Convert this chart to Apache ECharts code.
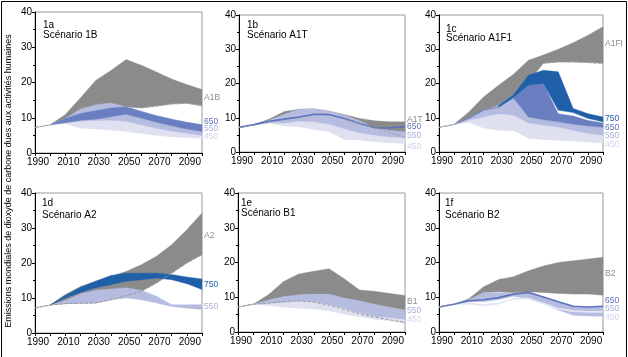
<!DOCTYPE html>
<html><head><meta charset="utf-8">
<script src="https://cdn.jsdelivr.net/npm/echarts@6/dist/echarts.min.js"></script>
<style>html,body{margin:0;padding:0;background:#fff}#c{width:628px;height:357px}</style>
</head><body><div id="c"></div>
<script>
// ---------- DATA ----------
const years = [1990, 2000, 2010, 2020, 2030, 2040, 2050, 2060, 2070, 2080, 2090, 2100];
const xTickLabels = ['1990', '2010', '2030', '2050', '2070', '2090'];
const panelIds = ['1a', '1b', '1c', '1d', '1e', '1f'];
const panelTitles = ['Scénario 1B', 'Scénario A1T', 'Scénario A1F1', 'Scénario A2', 'Scénario B1', 'Scénario B2'];
const yTitle = 'Emissions mondiales de dioxyde de carbone dues aux activités humaines';

// 1a  (A1B)
const a_grayUp = [7.2, 8, 10.9, 15.7, 20.6, 23.4, 26.5, 24.9, 23.0, 21.0, 19.4, 18.0];
const a_grayLo = [7.2, 8, 9.0, 10.0, 11.0, 12.5, 13.1, 12.8, 13.3, 13.9, 14.1, 13.4];
const a_450Lo  = [null, 8, 8.4, 7.0, 6.8, 6.5, 6.1, 5.5, 5.0, 4.6, 4.4, 4.2];
const a_550Lo  = [null, 8, 8.6, 9.0, 9.2, 9.3, 9.0, 8.0, 7.0, 6.2, 5.6, 5.0];
const a_550Up  = [null, 8, 9.8, 12.5, 13.7, 14.2, 13.1, 11.8, 10.6, 9.6, 8.7, 8.0];
const a_650Lo  = [null, 8, 8.6, 9.3, 9.6, 10.3, 11.0, 9.9, 8.7, 7.7, 6.8, 6.1];
const a_650Up  = [null, 8, 9.8, 11.2, 12.0, 12.8, 13.1, 11.8, 10.6, 9.6, 8.7, 8.0];
const a_dash   = [7.2, 8, null, null, null, null, 13.1, 12.8, 13.3, 13.9, 14.1, 13.4];

// 1b  (A1T)
const b_grayUp = [7.2, 8, 9.6, 11.8, 12.5, 12.5, 11.9, 10.9, 9.8, 9.1, 8.8, 8.8];
const b_grayLo = [7.2, 8, 8.5, 9.0, 9.5, 10.0, 10.0, 9.5, 8.3, 6.9, 5.6, 4.3];
const b_450Lo  = [null, 8, 8.4, 7.6, 7.4, 6.5, 5.9, 3.6, 3.5, 3.0, 2.7, 2.4];
const b_550Lo  = [null, 8, 8.6, 8.5, 9.0, 8.8, 8.1, 6.8, 5.6, 4.9, 4.4, 4.2];
const b_550Up  = [null, 8, 9.3, 11.0, 12.5, 12.7, 11.9, 10.7, 9.1, 7.0, 6.3, 5.9];
const b_650    = [7.2, 8, 9.0, 9.6, 10.2, 11.0, 10.9, 9.8, 8.3, 7.1, 7.0, 7.4];
const b_dash   = [7.2, 8, null, null, null, null, null, 9.5, 8.3, 6.9, 5.6, 4.3];

// 1c  (A1FI)
const c_grayUp = [7.2, 8, 11.7, 16.1, 19.5, 22.7, 26.8, 28.3, 30.0, 31.9, 34.1, 36.6];
const c_grayLo = [7.2, 8, 9.3, 11.7, 13.7, 16.6, 20.5, 25.9, 26.3, 26.3, 26.1, 25.9];
const c_450Lo  = [null, 8, 8.6, 7.0, 6.3, 6.2, 4.0, 3.6, 3.4, 3.2, 2.9, 2.6];
const c_550Lo  = [null, 8, 9.3, 10.2, 11.2, 10.7, 8.5, 7.8, 7.3, 6.3, 5.4, 4.9];
const c_550Up  = [null, 8, 9.8, 12.2, 13.5, 16.8, 10.2, 9.4, 8.8, 8.1, 7.6, 7.2];
const c_650Lo  = [null, 8, 9.8, 12.2, 13.1, 15.8, 10.2, 9.4, 8.8, 8.1, 7.6, 7.2];
const c_650Up  = [null, 8, 10.0, 12.3, 13.2, 16.1, 19.5, 20.0, 11.2, 10.5, 9.2, 8.5];
const c_750Lo  = [null, null, null, null, 13.1, 16.0, 19.5, 20.0, 12.2, 11.5, 9.8, 8.8];
const c_750Up  = [null, null, null, null, 13.6, 16.7, 22.4, 23.9, 23.4, 12.7, 11.2, 10.2];
const c_dash   = [7.2, 8, null, null, null, null, null, 25.9, 26.3, 26.3, 26.1, 25.9];

// 1d  (A2)
const d_grayUp = [7.2, 8, 11.0, 13.3, 14.8, 16.2, 17.6, 19.5, 21.9, 25.2, 29.5, 34.3];
const d_grayLo = [7.2, 8, 8.4, 8.5, 8.6, 9.5, 10.7, 11.9, 14.3, 17.1, 20.0, 22.4];
const d_550Lo  = [null, 8, 8.4, 8.6, 8.6, 9.5, 10.0, 9.5, 8.6, 7.6, 7.1, 6.7];
const d_550Up  = [null, 8, 9.3, 11.2, 12.2, 12.6, 12.9, 12.2, 10.5, 8.1, 8.1, 8.1];
const d_750Lo  = [null, 8, 10.0, 11.6, 12.9, 13.8, 14.8, 15.2, 15.7, 15.2, 14.1, 12.4];
const d_750Up  = [null, 8, 10.7, 13.1, 14.8, 16.4, 17.1, 17.1, 17.1, 16.7, 16.0, 15.4];
const d_dash   = [7.2, 8, 8.4, 8.5, 8.6, 9.5, 10.7, 11.9, 14.3, 17.1, 20.0, 22.4];

// 1e  (B1)
const e_grayUp = [7.2, 8, 10.7, 14.5, 16.7, 17.5, 18.2, 15.3, 12.1, 11.7, 11.1, 10.5];
const e_grayLo = [7.2, 8, 8.3, 8.8, 9.0, 8.6, 7.7, 6.5, 5.2, 4.3, 3.5, 2.7];
const e_450Lo  = [null, 8, 7.6, 7.1, 6.8, 6.6, 6.1, 5.1, 4.4, 3.7, 3.2, 2.9];
const e_550Lo  = [null, 8, 8.3, 8.5, 8.9, 8.8, 8.0, 6.9, 5.6, 4.6, 4.2, 3.7];
const e_550Up  = [null, 8, 9.2, 10.2, 10.7, 10.9, 10.9, 9.8, 9.0, 8.0, 7.1, 6.3];
const e_dash   = [7.2, 8, 8.3, 8.8, 9.0, 8.6, 7.7, 6.5, 5.2, 4.3, 3.5, 2.7];

// 1f  (B2)
const f_grayUp = [7.2, 8, 9.6, 13.0, 15.1, 15.9, 17.6, 19.0, 20.0, 20.5, 21.0, 21.5];
const f_grayLo = [7.2, 8, 8.7, 11.3, 11.6, 11.3, 11.6, 11.4, 11.1, 10.9, 10.9, 10.6];
const f_550Lo  = [null, 8, 8.7, 8.7, 9.3, 10.3, 9.6, 8.2, 6.3, 4.8, 4.6, 4.5];
const f_550Up  = [null, 8, 9.3, 11.4, 11.4, 11.1, 11.3, 10.0, 8.8, 7.4, 7.1, 7.3];
const f_450    = [7.2, 8, 8.2, 7.7, 8.2, 9.6, 9.6, 8.2, 6.7, 6.0, 5.8, 5.8];
const f_650    = [7.2, 8, 9.0, 9.3, 9.9, 10.9, 11.4, 10.1, 8.7, 7.4, 7.2, 7.4];
const f_dash   = [7.2, 8, null, null, null, null, null, null, null, null, null, null];

// right-hand labels of each panel
const endLabels = [
  ['A1B', '650', '550', '450'],
  ['A1T', '650', '550', '450'],
  ['A1FI', '750', '650', '550', '450'],
  ['A2', '750', '550'],
  ['B1', '550', '450'],
  ['B2', '650', '550', '450']
];

// ---------- STYLE / LAYOUT ----------
const FONT = '"Liberation Sans", Arial, sans-serif';
const COL = {gray: '#8b8b8b', c750: '#1f60a9', c650: '#6a7fc1', c550: '#b6bce0', c450: '#dfe1f1'};
const LBL = {A: '#8c8c8c', '750': '#1d5ca8', '650': '#5b73bb', '550': '#a9b0d9', '450': '#cfd3ea'};
const grids = [
  {left: 35, top: 12, width: 167, height: 141},
  {left: 239, top: 15, width: 166, height: 137},
  {left: 439, top: 15, width: 164, height: 137},
  {left: 35, top: 193, width: 167, height: 140},
  {left: 238, top: 193, width: 167, height: 139},
  {left: 439, top: 193, width: 164, height: 139}
];
const titlePos = [[43, 25, 35], [247, 25, 35], [446, 29, 38.5], [42, 203, 215], [241, 203, 213], [445, 203, 215]];
const endLabelY = [
  [98, 121.5, 128.5, 136.5],
  [120, 127, 136, 146.5],
  [43.5, 119, 127.5, 136, 145],
  [236, 285, 307],
  [302, 311, 320],
  [274, 301, 309, 318]
];

function band(g, lo, hi, color, z) {
  const pts = years.map((y, i) => [y, lo[i], hi[i]]).filter(p => p[1] != null && p[2] != null);
  return {
    type: 'custom', xAxisIndex: g, yAxisIndex: g, z: z, silent: true, animation: false,
    encode: {x: 0, y: [1, 2]}, data: pts,
    renderItem: function (params, api) {
      if (params.dataIndex !== 0) return null;
      const poly = [];
      pts.forEach(p => poly.push(api.coord([p[0], p[2]])));
      for (let i = pts.length - 1; i >= 0; i--) poly.push(api.coord([pts[i][0], pts[i][1]]));
      return {type: 'polygon', shape: {points: poly}, style: {fill: color, stroke: color, lineWidth: 0.4}};
    }
  };
}
function line(g, vals, color, width, z, dashed) {
  return {
    type: 'line', xAxisIndex: g, yAxisIndex: g, z: z, silent: true, animation: false,
    data: years.map((y, i) => [y, vals[i] == null ? '-' : vals[i]]),
    symbol: 'none', connectNulls: false,
    lineStyle: {color: color, width: width, type: dashed ? [3, 2] : 'solid'}
  };
}

const series = [
  // 1a
  band(0, a_grayLo, a_grayUp, COL.gray, 1),
  band(0, a_450Lo, a_550Lo, COL.c450, 2),
  band(0, a_550Lo, a_550Up, COL.c550, 3),
  band(0, a_650Lo, a_650Up, COL.c650, 4),
  line(0, a_dash, '#a0a0a0', 1, 8, true),
  // 1b
  band(1, b_grayLo, b_grayUp, COL.gray, 1),
  band(1, b_450Lo, b_550Lo, COL.c450, 2),
  band(1, b_550Lo, b_550Up, COL.c550, 3),
  line(1, b_650, '#5b73bb', 1.6, 7, false),
  line(1, b_dash, '#a0a0a0', 1, 8, true),
  // 1c
  band(2, c_grayLo, c_grayUp, COL.gray, 1),
  band(2, c_450Lo, c_550Lo, COL.c450, 2),
  band(2, c_550Lo, c_550Up, COL.c550, 3),
  band(2, c_650Lo, c_650Up, COL.c650, 4),
  band(2, c_750Lo, c_750Up, COL.c750, 5),
  line(2, c_dash, '#a0a0a0', 1, 8, true),
  // 1d
  band(3, d_grayLo, d_grayUp, COL.gray, 1),
  band(3, d_550Lo, d_550Up, COL.c550, 3),
  band(3, d_750Lo, d_750Up, COL.c750, 5),
  line(3, d_dash, '#999999', 1, 8, true),
  // 1e
  band(4, e_grayLo, e_grayUp, COL.gray, 1),
  band(4, e_450Lo, e_550Lo, COL.c450, 2),
  band(4, e_550Lo, e_550Up, COL.c550, 3),
  line(4, e_dash, '#999999', 1, 8, true),
  // 1f
  band(5, f_grayLo, f_grayUp, COL.gray, 1),
  band(5, f_550Lo, f_550Up, COL.c550, 3),
  line(5, f_450, '#e4e6f4', 1.8, 6, false),
  line(5, f_650, '#5b73bb', 1.6, 7, false),
  line(5, f_dash, '#a0a0a0', 1, 8, true)
];

const xAxes = grids.map((g, i) => ({
  type: 'value', gridIndex: i, min: 1990, max: 2100, interval: 10,
  axisLine: {show: true, onZero: false, lineStyle: {color: '#000', width: 1}},
  axisTick: {show: true, length: 3, lineStyle: {color: '#000'}},
  splitLine: {show: false},
  axisLabel: {
    fontFamily: FONT, fontSize: 10, color: '#000', margin: 4, padding: [0, 0, 0, 6],
    showMaxLabel: true,
    formatter: v => xTickLabels.indexOf(String(v)) >= 0 ? String(v) : ''
  }
}));
const yAxes = grids.map((g, i) => ({
  type: 'value', gridIndex: i, min: 0, max: 40, interval: 10,
  axisLine: {show: true, lineStyle: {color: '#000', width: 1}},
  axisTick: {show: true, length: 3, lineStyle: {color: '#000'}},
  minorTick: {show: true, splitNumber: 2, length: 2, lineStyle: {color: '#000'}},
  splitLine: {show: false},
  axisLabel: {fontFamily: FONT, fontSize: 10, color: '#000', margin: 3}
}));

const graphics = [];
graphics.push({type: 'rect', shape: {x: 1.5, y: 1.5, width: 625, height: 400}, style: {fill: null, stroke: '#000', lineWidth: 1}, z: 100});
graphics.push({type: 'text', x: 9, y: 181, rotation: Math.PI / 2, style: {text: yTitle, font: '9px ' + FONT, fill: '#000', textAlign: 'center', textVerticalAlign: 'middle'}, z: 100});
panelIds.forEach((id, i) => {
  const p = titlePos[i];
  graphics.push({type: 'text', x: p[0], y: p[1], style: {text: id, font: '10px ' + FONT, fill: '#000', textVerticalAlign: 'middle'}, z: 100});
  graphics.push({type: 'text', x: p[0], y: p[2], style: {text: panelTitles[i], font: '10px ' + FONT, fill: '#000', textVerticalAlign: 'middle'}, z: 100});
  const gx = grids[i].left + grids[i].width + 2;
  endLabels[i].forEach((t, k) => {
    const c = LBL[t] || LBL.A;
    graphics.push({type: 'text', x: gx, y: endLabelY[i][k], style: {text: t, font: '8.5px ' + FONT, fill: c, textVerticalAlign: 'middle'}, z: 100});
  });
});

const chart = echarts.init(document.getElementById('c'), null, {renderer: 'canvas'});
chart.setOption({
  animation: false,
  backgroundColor: '#fff',
  grid: grids.map(g => Object.assign({show: true, borderColor: '#9a9a9a', borderWidth: 1, backgroundColor: 'transparent'}, g)),
  xAxis: xAxes,
  yAxis: yAxes,
  series: series,
  graphic: graphics
});
</script></body></html>
